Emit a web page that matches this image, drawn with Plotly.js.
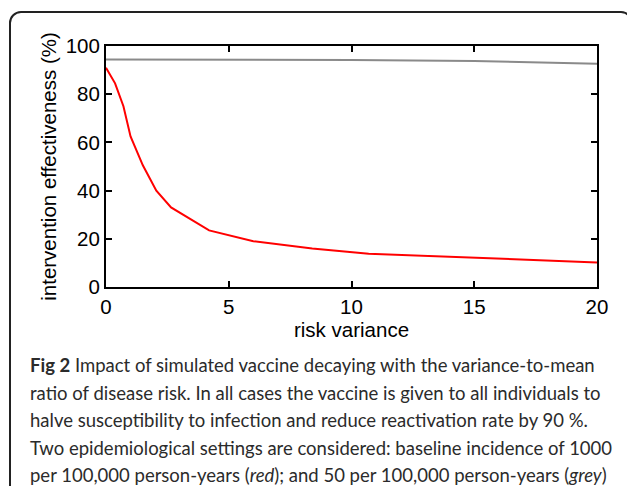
<!DOCTYPE html>
<html>
<head>
<meta charset="utf-8">
<script src="https://cdn.plot.ly/plotly-3.0.1.min.js"></script>
<style>
  html, body { margin: 0; padding: 0; background: #ffffff; width: 627px; height: 486px; overflow: hidden; }
  #frame { position: absolute; left: 9px; top: 11px; width: 620px; height: 520px;
           border: 2px solid #222222; border-radius: 12px; box-sizing: content-box; }
  #chart { position: absolute; left: 0; top: 0; width: 627px; height: 486px; }
</style>
</head>
<body>
<div id="frame"></div>
<div id="chart"></div>
<script>
// ---- data ----
const redX  = [0, 0.37, 0.71, 1.0, 1.5, 2.05, 2.65, 4.2, 6.0, 8.4, 10.7, 15, 20];
const redY  = [91, 84.5, 75, 62.5, 50.5, 40, 33, 23.5, 19, 16, 13.8, 12, 10.2];
const greyX = [0, 5, 10, 15, 17.5, 20];
const greyY = [94.4, 94.4, 94.2, 93.8, 93.3, 92.6];
const xTicks = [0, 5, 10, 15, 20];
const yTicks = [0, 20, 40, 60, 80, 100];
const xTitle = "risk variance";
const yTitle = "intervention effectiveness (%)";
const captionLines = [
  "<b>Fig 2</b> Impact of simulated vaccine decaying with the variance-to-mean",
  "ratio of disease risk. In all cases the vaccine is given to all individuals to",
  "halve susceptibility to infection and reduce reactivation rate by 90 %.",
  "Two epidemiological settings are considered: baseline incidence of 1000",
  "per 100,000 person-years (<i>red</i>); and 50 per 100,000 person-years (<i>grey</i>)"
];

// ---- layout geometry (pixels) ----
const W = 627, H = 486;
const plotL = 106, plotR = 597, plotT = 46, plotB = 287;
const pw = plotR - plotL, ph = plotB - plotT;
const px2paperX = p => (p - plotL) / pw;
const px2paperY = p => (plotB - p) / ph;

const axisFont = { family: "Liberation Sans, Arial, sans-serif", size: 20.5, color: "#000000" };

const traces = [
  { x: greyX, y: greyY, type: "scatter", mode: "lines",
    line: { color: "#8a8a8a", width: 2 }, hoverinfo: "skip" },
  { x: redX, y: redY, type: "scatter", mode: "lines",
    line: { color: "#ff0000", width: 2 }, hoverinfo: "skip" }
];

const captionY0 = 365, captionStep = 27.6;
const annotations = captionLines.map((t, i) => ({
  text: t, xref: "paper", yref: "paper",
  x: px2paperX(28), y: px2paperY(captionY0 + i * captionStep),
  xanchor: "left", yanchor: "middle", showarrow: false, align: "left",
  font: { family: "Lato, Open Sans, sans-serif", size: 18.5, color: "#2b2b2b" }
}));

const layout = {
  width: W, height: H,
  margin: { l: plotL, r: W - plotR, t: plotT, b: H - plotB, pad: 0 },
  paper_bgcolor: "rgba(0,0,0,0)", plot_bgcolor: "rgba(0,0,0,0)",
  showlegend: false,
  xaxis: {
    range: [0, 20], tickvals: xTicks, ticktext: xTicks.map(String),
    ticks: "inside", ticklen: 6, tickwidth: 2, tickcolor: "#000",
    showline: true, linewidth: 2, linecolor: "#000", mirror: "ticks",
    showgrid: false, zeroline: false, tickfont: axisFont,
    title: { text: xTitle, font: axisFont, standoff: 2 }
  },
  yaxis: {
    range: [0, 100], tickvals: yTicks, ticktext: yTicks.map(String),
    ticks: "inside", ticklen: 6, tickwidth: 2, tickcolor: "#000",
    showline: true, linewidth: 2, linecolor: "#000", mirror: "ticks",
    showgrid: false, zeroline: false, tickfont: axisFont,
    title: { text: yTitle, font: axisFont, standoff: 4 }
  },
  annotations: annotations
};

Plotly.newPlot("chart", traces, layout, { staticPlot: true, displayModeBar: false });
</script>
</body>
</html>
